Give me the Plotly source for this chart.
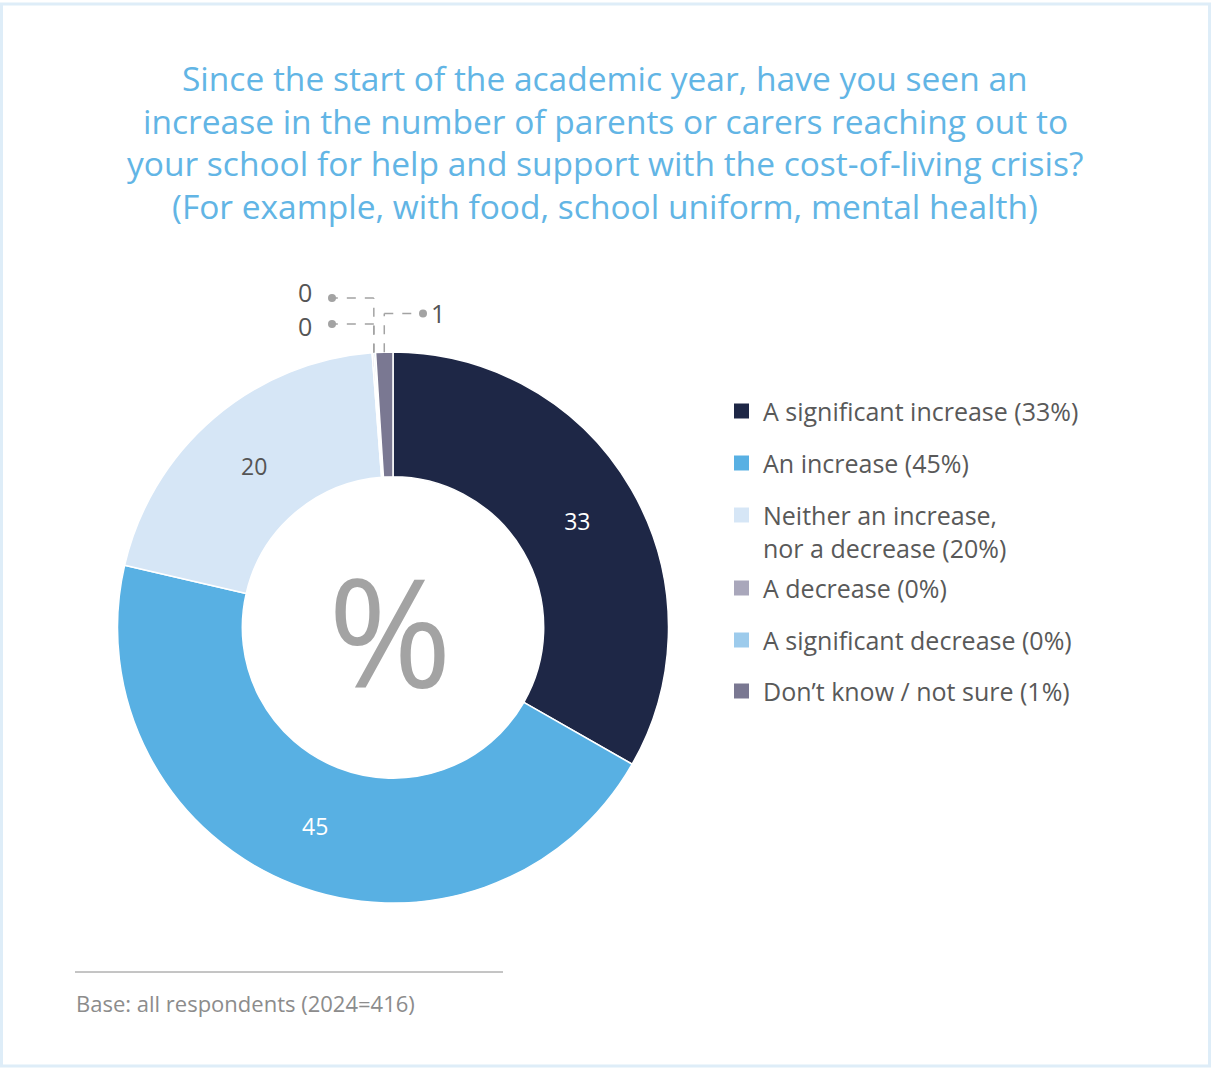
import math
import plotly.graph_objects as go

# ---- data ----
categories = [
    "A significant increase",
    "An increase",
    "Neither an increase, nor a decrease",
    "A decrease",
    "A significant decrease",
    "Don\u2019t know / not sure",
]
values = [33, 45, 20, 0.1, 0.1, 1]
colors = ["#1e2746", "#58b0e3", "#d6e6f6", "#a9a7bb", "#9dcbec", "#7a7892"]
label_colors = ["#ffffff", "#ffffff", "#555555", "#555555", "#555555", "#555555"]

title_lines = [
    "Since the start of the academic year, have you seen an",
    "increase in the number of parents or carers reaching out to",
    "your school for help and support with the cost-of-living crisis?",
    "(For example, with food, school uniform, mental health)",
]
base_note = "Base: all respondents (2024=416)"

# ---- canvas helpers (pixel -> paper) ----
W, H = 1211, 1068
def px(x):
    return x / W
def py(y):
    return 1 - y / H

FONT = "Open Sans"
TEXT_GREY = "#595959"
LEADER_GREY = "#a3a3a3"

# donut geometry
CX, CY, R_OUT = 393, 627.5, 275.5
HOLE = 0.547

fig = go.Figure()

big = [round(v) >= 5 for v in values]
fig.add_trace(go.Pie(
    labels=categories,
    values=values,
    sort=False,
    direction="clockwise",
    rotation=0,
    hole=HOLE,
    marker=dict(colors=colors, line=dict(color="#ffffff", width=1.5)),
    text=[str(round(v)) if b else "" for v, b in zip(values, big)],
    textinfo="text",
    textposition="inside",
    insidetextorientation="horizontal",
    textfont=dict(family=FONT, size=23, color=label_colors),
    hoverinfo="label+value",
    showlegend=False,
    domain=dict(x=[px(CX - R_OUT), px(CX + R_OUT)], y=[py(CY + R_OUT), py(CY - R_OUT)]),
))

shapes = []
annotations = []

# outer frame
shapes.append(dict(type="rect", xref="paper", yref="paper",
                   x0=px(1.5), x1=px(1209.5), y0=py(1066), y1=py(4),
                   line=dict(color="#deedf8", width=3), fillcolor="rgba(0,0,0,0)", layer="below"))

# title lines
title_y = [78, 121, 163, 206]
for line, ty in zip(title_lines, title_y):
    annotations.append(dict(text=line, x=px(605), y=py(ty), xref="paper", yref="paper",
                            xanchor="center", yanchor="middle", showarrow=False,
                            font=dict(family=FONT, size=33.5, color="#62b5e5")))

# centre "%" symbol
annotations.append(dict(text="%", x=px(390), y=py(630), xref="paper", yref="paper",
                        xanchor="center", yanchor="middle", showarrow=False,
                        font=dict(family=FONT, size=150, color="#a3a3a3")))

# leader lines for the small slices
total = sum(values)
cum = 0
mids = []
for v in values:
    mids.append((cum + v / 2) / total * 2 * math.pi)
    cum += v

def outer_point(theta):
    return CX + R_OUT * math.sin(theta), CY - R_OUT * math.cos(theta)

# (slice index, leader level y, dot x, label x, label y)
small_labels = [
    (3, 298, 332, 305, 292),
    (4, 324, 332, 305, 326),
    (5, 313.5, 423, 438, 313),
]
shared_x = (outer_point(mids[3])[0] + outer_point(mids[4])[0]) / 2
for idx, ly, dot_x, lab_x, lab_y in small_labels:
    sx, sy = outer_point(mids[idx])
    if idx in (3, 4):
        # the two zero slices share one vertical run
        sx = shared_x
    shapes.append(dict(type="line", xref="paper", yref="paper",
                       x0=px(sx), x1=px(sx), y0=py(sy), y1=py(ly),
                       line=dict(color=LEADER_GREY, width=1.5, dash="dash")))
    shapes.append(dict(type="line", xref="paper", yref="paper",
                       x0=px(sx), x1=px(dot_x), y0=py(ly), y1=py(ly),
                       line=dict(color=LEADER_GREY, width=1.5, dash="dash")))
    shapes.append(dict(type="circle", xref="paper", yref="paper",
                       x0=px(dot_x - 4), x1=px(dot_x + 4), y0=py(ly + 4), y1=py(ly - 4),
                       fillcolor=LEADER_GREY, line=dict(width=0)))
    annotations.append(dict(text=str(round(values[idx])), x=px(lab_x), y=py(lab_y),
                            xref="paper", yref="paper", xanchor="center", yanchor="middle",
                            showarrow=False, font=dict(family=FONT, size=25, color="#555555")))

# legend (square swatch + label; long labels wrap after the comma)
legend_y = [411, 463, 515, 588, 640, 691]
LEG_SIZE = 25
for cat, v, col, ly in zip(categories, values, colors, legend_y):
    shapes.append(dict(type="rect", xref="paper", yref="paper",
                       x0=px(734), x1=px(749), y0=py(ly + 7.5), y1=py(ly - 7.5),
                       fillcolor=col, line=dict(width=0)))
    label = f"{cat} ({round(v)}%)".replace(", ", ",<br>")
    n_lines = label.count("<br>") + 1
    centre_y = ly + (n_lines - 1) * LEG_SIZE * 1.3 / 2
    annotations.append(dict(text=label, x=px(761), y=py(centre_y), xref="paper", yref="paper",
                            xanchor="left", yanchor="middle", align="left", showarrow=False,
                            font=dict(family=FONT, size=LEG_SIZE, color=TEXT_GREY)))

# footnote rule and base text
shapes.append(dict(type="line", xref="paper", yref="paper",
                   x0=px(75), x1=px(503), y0=py(972), y1=py(972),
                   line=dict(color="#8a8a8a", width=1)))
annotations.append(dict(text=base_note, x=px(74), y=py(1003), xref="paper", yref="paper",
                        xanchor="left", yanchor="middle", showarrow=False,
                        font=dict(family=FONT, size=22, color="#8c8c8c")))

fig.update_layout(
    width=W, height=H, autosize=False,
    margin=dict(l=0, r=0, t=0, b=0),
    paper_bgcolor="#ffffff", plot_bgcolor="#ffffff",
    shapes=shapes, annotations=annotations,
    font=dict(family=FONT),
)

fig.write_html("out.html")
